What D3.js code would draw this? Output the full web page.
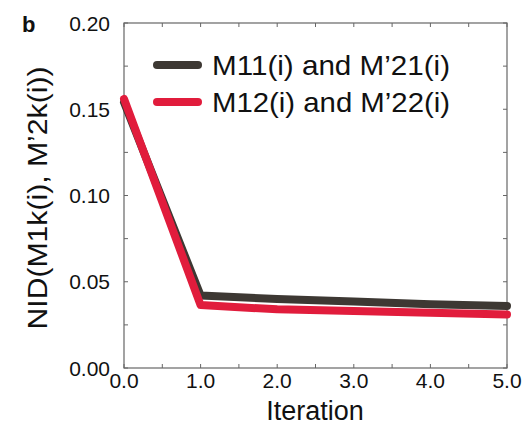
<!DOCTYPE html>
<html>
<head>
<meta charset="utf-8">
<script src="https://cdn.jsdelivr.net/npm/d3@7"></script>
<style>
  body { margin: 0; background: #fff; }
  text { font-family: "Liberation Sans", Arial, sans-serif; fill: #111; }
</style>
</head>
<body>
<svg width="526" height="427"></svg>
<script>
// data
var iterations = [0, 1, 2, 3, 4, 5];
var nidM11 = [0.154, 0.042, 0.040, 0.0385, 0.037, 0.036];
var nidM12 = [0.156, 0.0365, 0.034, 0.033, 0.032, 0.031];
var seriesNames = ["M11(i) and M\u201921(i)", "M12(i) and M\u201922(i)"];
var xTicks = [0, 1, 2, 3, 4, 5];
var yTicks = [0, 0.05, 0.10, 0.15, 0.20];

var colors = ["#3d3833", "#e11c3c"];

// note: "top" clashes with window.top, so use plot* names
var svg = d3.select("svg"),
    plotLeft = 124, plotRight = 507, plotTop = 23, plotBottom = 368;

var x = d3.scaleLinear().domain([0, 5]).range([plotLeft, plotRight]);
var y = d3.scaleLinear().domain([0, 0.2]).range([plotBottom, plotTop]);

// frame
svg.append("rect")
    .attr("x", plotLeft).attr("y", plotTop)
    .attr("width", plotRight - plotLeft).attr("height", plotBottom - plotTop)
    .attr("fill", "none").attr("stroke", "#666").attr("stroke-width", 1.2);

// ticks (inside, on all four sides)
var xMinor = d3.range(0, 5.01, 0.5);
var yMinor = d3.range(0, 0.2001, 0.025);
var tickG = svg.append("g").attr("stroke", "#666").attr("stroke-width", 1);
xMinor.forEach(function(v) {
    tickG.append("line").attr("x1", x(v)).attr("x2", x(v)).attr("y1", plotBottom).attr("y2", plotBottom - 4);
    tickG.append("line").attr("x1", x(v)).attr("x2", x(v)).attr("y1", plotTop).attr("y2", plotTop + 4);
});
yMinor.forEach(function(v) {
    tickG.append("line").attr("x1", plotLeft).attr("x2", plotLeft + 4).attr("y1", y(v)).attr("y2", y(v));
    tickG.append("line").attr("x1", plotRight).attr("x2", plotRight - 4).attr("y1", y(v)).attr("y2", y(v));
});

// tick labels
svg.append("g").selectAll("text")
    .data(yTicks)
    .join("text")
    .attr("x", plotLeft - 14)
    .attr("y", d => y(d))
    .attr("dy", "0.36em")
    .attr("text-anchor", "end")
    .attr("font-size", 21)
    .text(d => d3.format(".2f")(d));

svg.append("g").selectAll("text")
    .data(xTicks)
    .join("text")
    .attr("x", d => x(d))
    .attr("y", 388)
    .attr("text-anchor", "middle")
    .attr("font-size", 21)
    .text(d => d3.format(".1f")(d));

// axis titles
svg.append("text")
    .attr("x", 315).attr("y", 420)
    .attr("text-anchor", "middle")
    .attr("font-size", 27)
    .text("Iteration");

svg.append("text")
    .attr("transform", "translate(47,198) rotate(-90)")
    .attr("text-anchor", "middle")
    .attr("font-size", 27)
    .attr("textLength", 263)
    .attr("lengthAdjust", "spacingAndGlyphs")
    .text("NID(M1k(i), M\u20192k(i))");

svg.append("text")
    .attr("x", 22).attr("y", 32)
    .attr("font-size", 22)
    .attr("font-weight", "bold")
    .text("b");

// lines
var line = d3.line()
    .x((d, i) => x(iterations[i]))
    .y(d => y(d));

[nidM11, nidM12].forEach(function(s, k) {
    svg.append("path")
        .datum(s)
        .attr("d", line)
        .attr("fill", "none")
        .attr("stroke", colors[k])
        .attr("stroke-width", 8)
        .attr("stroke-linecap", "round")
        .attr("stroke-linejoin", "round");
});

// legend
var legend = svg.append("g").selectAll("g")
    .data(seriesNames)
    .join("g")
    .attr("transform", (d, i) => "translate(157," + (65 + i * 37) + ")");

legend.append("line")
    .attr("x1", 0).attr("x2", 41)
    .attr("stroke", (d, i) => colors[i])
    .attr("stroke-width", 8)
    .attr("stroke-linecap", "round");

legend.append("text")
    .attr("x", 55)
    .attr("dy", "0.36em")
    .attr("font-size", 28)
    .attr("textLength", 238)
    .attr("lengthAdjust", "spacingAndGlyphs")
    .text(d => d);
</script>
</body>
</html>
